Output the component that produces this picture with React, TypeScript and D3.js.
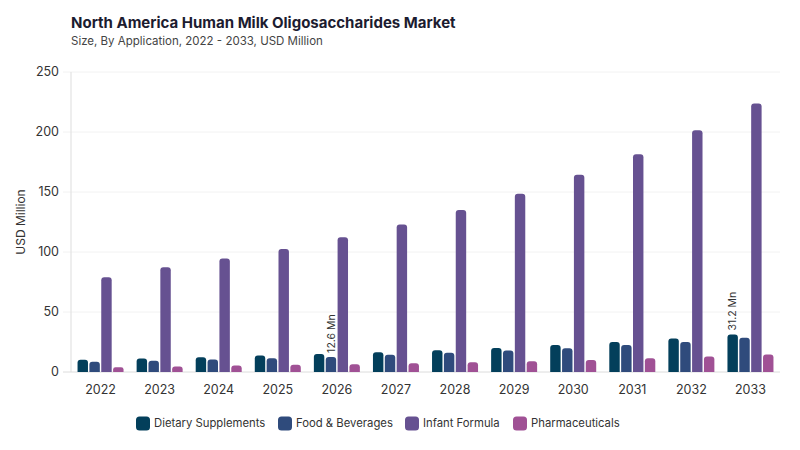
import { useEffect, useRef } from 'react';
import * as d3 from 'd3';

const years = ['2022', '2023', '2024', '2025', '2026', '2027', '2028', '2029', '2030', '2031', '2032', '2033'];
const seriesNames = ['Dietary Supplements', 'Food & Beverages', 'Infant Formula', 'Pharmaceuticals'];
const seriesColors = ['#033f5b', '#2f4b7c', '#665191', '#a05195'];

const dietary = [10.2, 11.2, 12.3, 13.7, 15.1, 16.5, 18.2, 20.1, 22.6, 25.1, 27.9, 31.2];
const foodBev = [8.5, 9.3, 10.4, 11.5, 12.6, 14.3, 16.0, 17.9, 19.8, 22.4, 25.1, 28.5];
const infant = [79.0, 87.3, 94.6, 102.6, 112.3, 122.9, 135.1, 148.5, 164.3, 181.5, 201.5, 223.8];
const pharma = [4.0, 4.6, 5.4, 6.0, 6.5, 7.3, 8.2, 9.0, 10.1, 11.5, 12.9, 14.6];

const yTicks = [0, 50, 100, 150, 200, 250];

// annotated bars: [year, series index, label]
const annotations: [string, number, string][] = [
  ['2026', 1, '12.6 Mn'],
  ['2033', 0, '31.2 Mn'],
];

const FONT = 'Inter, "DejaVu Sans", sans-serif';

export default function App() {
  const svgRef = useRef<SVGSVGElement>(null);

  useEffect(() => {
    const svgWidth = 800;
    const svgHeight = 450;
    const margin = { top: 72, right: 20, bottom: 78, left: 71 };

    const svg = d3.select(svgRef.current).attr('width', svgWidth).attr('height', svgHeight);
    svg.selectAll('*').remove();

    const allSeries = [dietary, foodBev, infant, pharma];

    const x = d3.scaleBand().domain(years).range([margin.left, 780]).padding(0);
    const bw = x.bandwidth();
    const inner = d3
      .scaleBand()
      .domain(seriesNames)
      .range([bw / 2 - 23, bw / 2 + 23])
      .paddingInner(0.12);
    const y = d3.scaleLinear().domain([0, 250]).range([svgHeight - margin.bottom, margin.top]);

    // title
    svg
      .append('text')
      .attr('x', 71)
      .attr('y', 28)
      .attr('font-family', FONT)
      .attr('font-size', 15)
      .attr('font-weight', 700)
      .attr('fill', '#1c1c30')
      .text('North America Human Milk Oligosaccharides Market');
    svg
      .append('text')
      .attr('x', 71)
      .attr('y', 45)
      .attr('font-family', FONT)
      .attr('font-size', 11.5)
      .attr('fill', '#444')
      .text('Size, By Application, 2022 - 2033, USD Million');

    // gridlines
    const grid = svg.append('g');
    grid
      .selectAll('line')
      .data(yTicks.filter((d) => d > 0))
      .join('line')
      .attr('x1', 63)
      .attr('x2', 780)
      .attr('y1', (d) => y(d))
      .attr('y2', (d) => y(d))
      .attr('stroke', '#f2f2f2')
      .attr('stroke-width', 1);

    // y tick labels
    svg
      .append('g')
      .selectAll('text')
      .data(yTicks)
      .join('text')
      .attr('x', 59)
      .attr('y', (d) => y(d))
      .attr('dy', '0.35em')
      .attr('text-anchor', 'end')
      .attr('font-family', FONT)
      .attr('font-size', 12.5)
      .attr('fill', '#333')
      .text((d) => d);

    // y axis title
    svg
      .append('text')
      .attr('transform', `translate(25, ${(y(0) + y(250)) / 2}) rotate(-90)`)
      .attr('text-anchor', 'middle')
      .attr('font-family', FONT)
      .attr('font-size', 12)
      .attr('fill', '#333')
      .text('USD Million');

    // axis lines
    svg
      .append('line')
      .attr('x1', 71)
      .attr('x2', 71)
      .attr('y1', y(250))
      .attr('y2', y(0))
      .attr('stroke', '#e3e3e3')
      .attr('stroke-width', 1.2);
    svg
      .append('line')
      .attr('x1', 63)
      .attr('x2', 780)
      .attr('y1', y(0))
      .attr('y2', y(0))
      .attr('stroke', '#dcdcdc')
      .attr('stroke-width', 1);

    // bars
    const r = 3;
    const barPath = (x0: number, w: number, top: number, bottom: number) => {
      const rr = Math.min(r, (bottom - top) / 2, w / 2);
      return `M${x0},${bottom}V${top + rr}Q${x0},${top} ${x0 + rr},${top}H${x0 + w - rr}Q${x0 + w},${top} ${x0 + w},${top + rr}V${bottom}Z`;
    };

    const groups = svg
      .append('g')
      .selectAll('g')
      .data(years)
      .join('g')
      .attr('transform', (d) => `translate(${x(d)},0)`);

    groups
      .selectAll('path')
      .data((_, i) => seriesNames.map((name, s) => ({ name, s, value: allSeries[s][i] })))
      .join('path')
      .attr('d', (d) => barPath(inner(d.name)!, inner.bandwidth(), y(d.value), y(0)))
      .attr('fill', (d) => seriesColors[d.s]);

    // x tick labels
    svg
      .append('g')
      .selectAll('text')
      .data(years)
      .join('text')
      .attr('x', (d) => x(d)! + bw / 2)
      .attr('y', 394)
      .attr('text-anchor', 'middle')
      .attr('font-family', FONT)
      .attr('font-size', 12.5)
      .attr('fill', '#333')
      .text((d) => d);

    // annotations
    svg
      .append('g')
      .selectAll('text')
      .data(annotations)
      .join('text')
      .attr('transform', (d) => {
        const i = years.indexOf(d[0]);
        const cx = x(d[0])! + inner(seriesNames[d[1]])! + inner.bandwidth() / 2;
        const top = y(allSeries[d[1]][i]) - 4;
        return `translate(${cx}, ${top}) rotate(-90)`;
      })
      .attr('dy', '0.35em')
      .attr('font-family', FONT)
      .attr('font-size', 10.5)
      .attr('fill', '#333')
      .text((d) => d[2]);

    // legend
    const legendX = [136, 278, 405, 513];
    const legend = svg
      .append('g')
      .selectAll('g')
      .data(seriesNames)
      .join('g')
      .attr('transform', (_, i) => `translate(${legendX[i]}, 416.5)`);
    legend
      .append('rect')
      .attr('width', 14)
      .attr('height', 14)
      .attr('rx', 3.5)
      .attr('fill', (_, i) => seriesColors[i]);
    legend
      .append('text')
      .attr('x', 18)
      .attr('y', 7)
      .attr('dy', '0.35em')
      .attr('font-family', FONT)
      .attr('font-size', 11.3)
      .attr('fill', '#333')
      .text((d) => d);
  }, []);

  return (
    <div style={{ position: 'absolute', left: 0, top: 0 }}>
      <svg ref={svgRef} style={{ display: 'block' }} />
    </div>
  );
}
